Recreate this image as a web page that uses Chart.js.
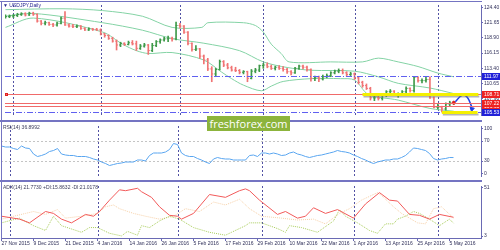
<!DOCTYPE html>
<html>
<head>
<meta charset="utf-8">
<title>USDJPY Daily</title>
<script src="https://cdn.jsdelivr.net/npm/chart.js@4.4.1/dist/chart.umd.min.js"></script>
<style>
  body { margin: 0; background: #fff; }
  #wrap { position: relative; width: 500px; height: 250px; overflow: hidden; background: #fff; }
  canvas { position: absolute; left: 0; }
  .sep { position: absolute; left: 0; width: 482px; background: #7474c2; }
  .txt { position: absolute; left: 3px; font: 5px "Liberation Sans", Arial, sans-serif; line-height: 6px; color: #3a3a5a; white-space: nowrap; }
  #brand { position: absolute; left: 207px; top: 116px; width: 83px; height: 15px; background: #8cb43c;
           color: #fff; font: 11px "Open Sans", sans-serif; line-height: 15px; text-align: center; }
</style>
</head>
<body>
<div id="wrap">
  <canvas id="price" width="500" height="120" style="top:0"></canvas>
  <canvas id="rsi" width="500" height="58" style="top:122px"></canvas>
  <canvas id="adx" width="500" height="68" style="top:182px"></canvas>
  <div class="sep" style="top:1px;height:1px"></div>
  <div class="sep" style="left:1px;width:1px;top:1px;height:238px"></div>
  <div class="sep" style="top:120px;height:2px"></div>
  <div class="sep" style="top:180px;height:2px"></div>
  <div class="txt" style="top:2px;color:#25258f">&#9660; USDJPY,Daily</div>
  <div class="txt" style="top:124px">RSI(14) 36.8992</div>
  <div class="txt" style="top:184px">ADX(14) 21.7730 +DI:15.8632 -DI:21.0178</div>
  <div id="brand">freshforex.com</div>
</div>
<script>
/* DATA */

// date labels on the bottom axis (bar index -> text)
const tickIdx = [0, 8, 16, 24, 32, 40, 48, 56, 64, 72, 80, 88, 96, 104, 112];
const tickText = ['27 Nov 2015', '9 Dec 2015', '21 Dec 2015', '4 Jan 2016', '14 Jan 2016', '26 Jan 2016',
  '5 Feb 2016', '17 Feb 2016', '29 Feb 2016', '10 Mar 2016', '22 Mar 2016', '1 Apr 2016',
  '13 Apr 2016', '25 Apr 2016', '5 May 2016'];
// first bar of each month (period separators)
const monthStart = [2, 24, 44, 65, 88, 109];

// daily bars USDJPY
const open = [
  122.6, 122.7, 122.8, 122.9, 123.1, 123.2, 123.0, 123.3, 123.1, 121.9,
  121.5, 121.6, 121.3, 121.2, 121.5, 122.4, 121.2, 121.0, 120.9, 121.0,
  120.6, 120.3, 120.5, 120.4, 120.3, 119.6, 119.3, 118.8, 118.3, 117.6,
  117.9, 117.7, 118.0, 117.8, 117.0, 117.4, 117.6, 116.6, 117.5, 118.2,
  118.5, 118.7, 118.8, 118.7, 121.1, 121.0, 119.9, 117.9, 116.8, 116.9,
  115.6, 114.9, 113.3, 112.4, 113.2, 114.6, 114.0, 113.5, 113.1, 113.0,
  112.7, 112.8, 111.6, 112.9, 113.1, 113.9, 114.0, 113.7, 113.4, 113.6,
  113.4, 113.2, 112.8, 112.6, 113.4, 113.8, 113.6, 113.2, 111.6, 111.7,
  111.5, 111.9, 112.1, 112.6, 112.9, 113.0, 112.6, 112.3, 112.4, 111.7,
  110.9, 110.3, 109.8, 108.1, 108.1, 108.0, 108.6, 109.2, 109.3, 108.8,
  108.8, 109.2, 109.8, 109.4, 111.8, 111.2, 111.2, 111.4, 108.1, 106.4,
  106.4, 106.1, 107.0, 107.2
];
const high = [
  123.0, 123.0, 123.1, 123.3, 123.4, 123.4, 123.5, 123.5, 123.2, 122.0,
  121.9, 121.7, 121.5, 121.7, 122.6, 123.6, 121.4, 121.3, 121.2, 121.1,
  120.7, 120.7, 120.6, 120.6, 120.5, 119.7, 119.4, 119.0, 118.5, 118.1,
  118.0, 118.3, 118.4, 118.3, 117.7, 117.9, 117.7, 117.9, 118.4, 118.7,
  119.0, 119.2, 119.0, 121.7, 121.5, 121.1, 120.0, 118.0, 117.5, 117.0,
  115.8, 115.2, 113.7, 113.4, 114.9, 114.8, 114.3, 113.8, 113.6, 113.2,
  113.0, 112.9, 113.2, 113.4, 114.0, 114.3, 114.4, 114.0, 113.8, 113.9,
  113.7, 113.4, 113.0, 113.6, 114.0, 114.0, 113.8, 113.3, 112.0, 112.0,
  112.2, 112.4, 112.8, 113.1, 113.3, 113.3, 112.8, 112.7, 112.6, 111.9,
  111.1, 110.6, 110.0, 108.6, 108.4, 108.8, 109.4, 109.6, 109.4, 109.0,
  109.4, 110.1, 109.9, 111.9, 111.9, 111.5, 111.9, 111.9, 108.3, 107.0,
  106.6, 107.2, 107.5, 107.5
];
const low = [
  122.4, 122.5, 122.5, 122.7, 122.9, 122.8, 122.9, 122.9, 121.7, 121.2,
  121.2, 121.1, 120.9, 121.0, 121.4, 121.1, 120.8, 120.7, 120.7, 120.4,
  120.2, 120.2, 120.2, 120.2, 119.4, 119.0, 118.6, 118.1, 116.7, 117.3,
  117.5, 117.6, 117.6, 116.6, 116.8, 117.2, 115.9, 116.4, 117.3, 117.9,
  118.3, 118.2, 118.3, 118.5, 120.6, 119.7, 117.6, 116.5, 116.6, 115.2,
  114.2, 113.0, 111.0, 111.9, 113.1, 113.7, 113.3, 112.9, 112.8, 112.4,
  112.4, 111.0, 111.5, 112.6, 112.8, 113.4, 113.5, 113.2, 113.1, 113.2,
  112.9, 112.5, 112.2, 112.5, 113.2, 113.3, 112.9, 111.1, 111.2, 111.0,
  111.3, 111.7, 111.9, 112.4, 112.6, 112.4, 112.0, 112.1, 111.4, 110.6,
  110.0, 109.6, 107.7, 107.6, 107.7, 107.7, 108.3, 108.8, 108.6, 108.2,
  108.5, 108.9, 109.1, 109.1, 110.9, 110.8, 110.9, 108.0, 106.3, 106.1,
  105.55, 105.9, 106.7, 106.9
];
const close = [
  122.7, 122.8, 122.9, 123.1, 123.2, 123.0, 123.3, 123.1, 121.9, 121.5,
  121.6, 121.3, 121.2, 121.5, 122.4, 121.2, 121.0, 120.9, 121.0, 120.6,
  120.3, 120.5, 120.4, 120.3, 119.6, 119.3, 118.8, 118.3, 117.6, 117.9,
  117.7, 118.0, 117.8, 117.0, 117.4, 117.6, 116.6, 117.5, 118.2, 118.5,
  118.7, 118.8, 118.7, 121.1, 121.0, 119.9, 117.9, 116.8, 116.9, 115.6,
  114.9, 113.3, 112.4, 113.2, 114.6, 114.0, 113.5, 113.1, 113.0, 112.7,
  112.8, 111.6, 112.9, 113.1, 113.9, 114.0, 113.7, 113.4, 113.6, 113.4,
  113.2, 112.8, 112.6, 113.4, 113.8, 113.6, 113.2, 111.6, 111.7, 111.5,
  111.9, 112.1, 112.6, 112.9, 113.0, 112.6, 112.3, 112.4, 111.7, 110.9,
  110.3, 109.8, 108.1, 108.1, 108.0, 108.6, 109.2, 109.3, 108.8, 108.8,
  109.2, 109.8, 109.4, 111.8, 111.2, 111.2, 111.4, 108.1, 106.4, 106.4,
  106.1, 107.0, 107.2, 107.22
];

// Bollinger bands: [bar index, price]
const bbUpper = [[0, 123.95], [14.5, 124.11], [24.5, 123.78], [34.5, 122.77], [42, 120.76], [49.5, 120.76],
  [51, 121.6], [60, 121.6], [63, 121.1], [65, 119.92], [67, 117.75], [69.5, 116.07], [71.5, 114.56],
  [82, 114.56], [90, 114.56], [94, 115.24], [99, 114.56], [104, 113.73], [109, 112.55], [113, 111.88]];
const bbMiddle = [[0, 122.77], [7, 123.27], [24.5, 121.6], [34.5, 120.26], [42, 118.75], [50, 117.92],
  [59, 116.58], [65, 114.56], [71, 113.56], [77, 113.06], [88, 112.89], [94, 111.88], [99, 110.71],
  [107, 109.87], [113, 108.87]];
const bbLower = [[0, 120.76], [7, 122.44], [24.5, 119.92], [29.5, 117.75], [33, 116.58], [36, 116.07],
  [42, 116.24], [50, 114.9], [54.5, 112.72], [57, 111.55], [60, 110.38], [64.5, 109.37], [67, 110.21],
  [70, 111.05], [77, 111.55], [84.5, 111.55], [88, 111.3], [91.5, 108.7], [99, 107.7], [107, 106.2],
  [113, 105.7]];

// price axis ticks and horizontal levels
const priceTicks = [124.40, 121.65, 118.90, 116.15, 113.40, 110.65, 107.90];
const redLevels = [108.71, 107.22, 106.65];
const blueLevels = [111.97, 105.53];
// yellow support/resistance marks: [from bar, to bar, price]
const yellowMarks = [[90, 119.2, 108.71], [110, 119, 105.45]];
// drawn forecast arrow: [bar index, price]
const arrowPath = [[113.4, 107.4], [115.1, 108.55], [116.4, 108.2], [117.6, 106.4]];

// RSI(14)
const rsi = [
  60, 58, 58, 55, 53, 60, 56, 55, 44, 39,
  41, 44, 49, 51, 55, 44, 42, 41, 41, 39,
  39, 39, 37, 34, 32, 28, 25, 21, 23, 25,
  26, 28, 28, 28, 32, 32, 30, 41, 46, 46,
  46, 48, 53, 65, 63, 46, 41, 39, 39, 35,
  32, 28, 25, 34, 37, 35, 34, 34, 32, 32,
  32, 32, 41, 42, 39, 46, 46, 44, 46, 44,
  41, 42, 46, 48, 44, 42, 39, 37, 39, 41,
  42, 44, 46, 48, 51, 49, 48, 46, 42, 39,
  35, 32, 28, 25, 28, 30, 32, 32, 34, 34,
  37, 41, 48, 56, 55, 53, 51, 45, 35, 32,
  34, 35, 37, 36.9
];
const rsiTicks = [100, 70, 30, 0];
const rsiLevels = [70, 30];

// ADX(14): [bar index, value]
const adx = [[0, 22.8], [4.5, 19.9], [7, 16.2], [11, 27.5], [13, 25.6], [15, 19.9], [17.5, 16.2], [19.5, 20.9],
  [21, 24.6], [23, 22.8], [24.5, 27.5], [27, 38.8], [29.5, 49.1], [31, 48.2], [34, 50.6], [35, 47.2],
  [37.5, 41.6], [39.5, 32.2], [42, 23.7], [44, 22.8], [45, 19.9], [48, 25.6], [52, 44.4], [56, 41.6],
  [59.5, 48.2], [61, 50], [62, 48.2], [64.5, 38.8], [69, 24.6], [71, 27.5], [74, 20.9], [76, 22.8],
  [78, 31.2], [81, 25.6], [84, 29.4], [88, 20.9], [91, 35], [94.5, 46.3], [97, 38.8], [99, 37.9],
  [102, 24.6], [104.5, 23.7], [107, 19.9], [109.5, 24.6], [113, 21.77]];
const plusDI = [[0, 16.2], [4.5, 20.9], [8, 13.4], [11, 8.6], [13, 22.8], [15, 13.4], [20, 6.8], [22, 11.5],
  [24, 11.5], [27, 5.8], [30, 3.2], [31.5, 7.7], [34, 3.9], [35, 13.4], [37, 11.5], [39.5, 18.1], [42, 22.8],
  [44.5, 19.9], [48, 11.5], [52, 6.8], [56, 3.9], [57.5, 6.8], [61, 13.4], [62, 16.2], [65, 16.2],
  [69, 10.5], [71, 6.8], [72, 13.4], [75, 11.5], [79, 6.8], [83, 18.1], [84.5, 29.4], [86, 22.8],
  [89, 16.2], [92, 8.6], [94, 5.8], [96, 15.2], [98, 15.2], [99, 19.9], [101, 22.8], [103, 27.5],
  [104.5, 25.6], [107, 19.9], [109.5, 13.4], [112, 19.9], [113, 15.86]];
const minusDI = [[0, 19.9], [6, 25.6], [8, 27.5], [11, 24.6], [14, 29.4], [16, 20.9], [20, 22.8], [24, 25.6],
  [26, 32.2], [28, 34], [29.5, 30.3], [33, 25.6], [36, 22.8], [39.5, 19.9], [43, 22.8], [46, 30.3],
  [49.5, 27.5], [53, 36.9], [56, 34], [59.5, 39.7], [62, 30.3], [65, 22.8], [70, 20.9], [74, 19],
  [78, 19.9], [81, 15.2], [84.5, 25.6], [87, 30.3], [90, 38.8], [94, 46.3], [95, 43.5], [98, 32.2],
  [100, 25.6], [104, 16.2], [106, 15.2], [108, 30.3], [110, 32.2], [113, 21.02]];
const adxTicks = [51, 3];

/* STYLE */

const FONT = '"Liberation Sans", Arial, sans-serif';
const AXIS = '#6a6ab4';
const TXT = '#30305a';
const UP = '#3f9a4a';
const DOWN = '#f07474';

const pts = arr => arr.map(p => ({ x: p[0], y: p[1] }));

// shared x axis: one bar every 4 px
function xAxis(show) {
  const ax = { type: 'linear', min: -0.125, max: 119.875, offset: false, display: show };
  if (show) {
    Object.assign(ax, {
      afterBuildTicks: s => { s.ticks = tickIdx.map(v => ({ value: v })); },
      afterFit: s => { s.height = 12; },
      grid: { drawOnChartArea: false, drawTicks: true, tickLength: 3, color: AXIS },
      border: { display: true, color: AXIS },
      ticks: { autoSkip: false, maxRotation: 0, align: 'start', padding: 0, color: TXT,
        font: { size: 5, family: FONT }, callback: v => tickText[tickIdx.indexOf(v)] }
    });
  }
  return ax;
}

function yAxis(min, max, values, fmt) {
  return {
    position: 'right', min: min, max: max,
    afterBuildTicks: s => { s.ticks = values.map(v => ({ value: v })); },
    afterFit: s => { s.width = 19; },
    grid: { drawOnChartArea: false, drawTicks: true, tickLength: 2, color: AXIS },
    border: { display: true, color: AXIS },
    ticks: { autoSkip: false, padding: 1, color: TXT, font: { size: 5, family: FONT }, callback: fmt }
  };
}

// dotted vertical month separators
const monthLines = {
  id: 'monthLines',
  beforeDatasetsDraw(chart) {
    const { ctx, chartArea: a, scales: { x } } = chart;
    ctx.save();
    ctx.strokeStyle = '#5252a4';
    ctx.lineWidth = 1;
    ctx.setLineDash([2, 2]);
    monthStart.forEach(i => {
      const px = Math.round(x.getPixelForValue(i)) + 0.5;
      ctx.beginPath();
      ctx.moveTo(px, a.top);
      ctx.lineTo(px, a.bottom);
      ctx.stroke();
    });
    ctx.restore();
  }
};

// horizontal levels, yellow marks and price tags
const priceLevels = {
  id: 'priceLevels',
  afterDatasetsDraw(chart) {
    const { ctx, chartArea: a, scales: { x, y } } = chart;
    ctx.save();
    ctx.lineWidth = 1;
    ctx.strokeStyle = '#f06a6a';
    redLevels.forEach(v => {
      const py = Math.round(y.getPixelForValue(v)) + 0.5;
      ctx.beginPath(); ctx.moveTo(a.left, py); ctx.lineTo(a.right, py); ctx.stroke();
    });
    ctx.strokeStyle = '#e02020';
    ctx.strokeRect(a.left + 0.5, Math.round(y.getPixelForValue(redLevels[0])) - 0.5, 2, 2);
    ctx.strokeStyle = '#6060f0';
    ctx.setLineDash([6, 2, 1, 2]);
    blueLevels.forEach(v => {
      const py = Math.round(y.getPixelForValue(v)) + 0.5;
      ctx.beginPath(); ctx.moveTo(a.left, py); ctx.lineTo(a.right, py); ctx.stroke();
    });
    ctx.setLineDash([]);
    yellowMarks.forEach(m => {
      const x0 = x.getPixelForValue(m[0]), x1 = x.getPixelForValue(m[1]);
      const py = y.getPixelForValue(m[2]);
      ctx.strokeStyle = 'rgba(120,120,120,0.55)';
      ctx.lineWidth = 2;
      ctx.beginPath(); ctx.moveTo(x0 + 1, py + 2); ctx.lineTo(x1 + 1, py + 2); ctx.stroke();
      ctx.strokeStyle = '#f4f000';
      ctx.lineWidth = 3;
      ctx.beginPath(); ctx.moveTo(x0, py); ctx.lineTo(x1, py); ctx.stroke();
    });
    ctx.restore();
  },
  afterDraw(chart) {
    const { ctx, chartArea: a, scales: { y } } = chart;
    ctx.save();
    ctx.font = '5px ' + FONT;
    ctx.textBaseline = 'middle';
    const tag = (v, bg) => {
      const py = Math.round(y.getPixelForValue(v));
      ctx.fillStyle = bg;
      ctx.fillRect(a.right + 1, py - 3, 18, 7);
      ctx.fillStyle = '#fff';
      ctx.fillText(v.toFixed(2), a.right + 3, py + 0.5);
    };
    redLevels.slice().reverse().forEach(v => tag(v, '#ee2222'));
    blueLevels.forEach(v => tag(v, '#2020d8'));
    ctx.restore();
  }
};

// dotted RSI levels
const rsiGrid = {
  id: 'rsiGrid',
  beforeDatasetsDraw(chart) {
    const { ctx, chartArea: a, scales: { y } } = chart;
    ctx.save();
    ctx.strokeStyle = '#c4c4c4';
    ctx.setLineDash([2, 2]);
    rsiLevels.forEach(v => {
      const py = Math.round(y.getPixelForValue(v)) + 0.5;
      ctx.beginPath(); ctx.moveTo(a.left, py); ctx.lineTo(a.right, py); ctx.stroke();
    });
    ctx.restore();
  }
};

const common = {
  responsive: false,
  animation: false,
  events: [],
  plugins: { legend: { display: false }, tooltip: { enabled: false } }
};

/* PRICE CHART */

const barColors = close.map((c, i) => (c >= open[i] ? UP : DOWN));

new Chart(document.getElementById('price'), {
  type: 'line',
  data: {
    datasets: [
      {
        type: 'line', data: pts(arrowPath), borderColor: '#1f3fe6', borderWidth: 1.5,
        tension: 0.45, pointRadius: 0
      },
      {
        type: 'line', data: [{ x: arrowPath[3][0], y: arrowPath[3][1] - 0.3 }], showLine: false,
        pointStyle: 'triangle', rotation: 190, pointRadius: 2.5,
        pointBackgroundColor: '#1f3fe6', pointBorderColor: '#1f3fe6'
      },
      {
        type: 'line', data: [{ x: close.length - 1, y: close[close.length - 1] }], showLine: false,
        pointRadius: 1.5, pointBackgroundColor: '#e82020', pointBorderColor: '#e82020'
      },
      {
        type: 'line', data: close.map((c, i) => ({ x: i + 0.125, y: c })), showLine: false,
        pointStyle: 'line', pointRadius: 1, pointBorderWidth: 1, pointBorderColor: barColors
      },
      {
        type: 'line', data: open.map((o, i) => ({ x: i - 0.125, y: o })), showLine: false,
        pointStyle: 'line', pointRadius: 1, pointBorderWidth: 1, pointBorderColor: barColors
      },
      {
        type: 'bar', data: low.map((l, i) => ({ x: i, y: [l, high[i]] })),
        backgroundColor: barColors, barThickness: 1, borderWidth: 0
      },
      { type: 'line', data: pts(bbUpper), borderColor: '#84d3a5', borderWidth: 1, pointRadius: 0, tension: 0.3 },
      { type: 'line', data: pts(bbMiddle), borderColor: '#84d3a5', borderWidth: 1, pointRadius: 0, tension: 0.3 },
      { type: 'line', data: pts(bbLower), borderColor: '#84d3a5', borderWidth: 1, pointRadius: 0, tension: 0.3 }
    ]
  },
  options: Object.assign({}, common, {
    layout: { padding: { left: 1, top: 1, right: 0, bottom: 1 } },
    scales: {
      x: xAxis(false),
      y: yAxis(105.02, 124.785, priceTicks, v => v.toFixed(2))
    }
  }),
  plugins: [monthLines, priceLevels]
});

/* RSI CHART */

new Chart(document.getElementById('rsi'), {
  type: 'line',
  data: {
    datasets: [{
      data: rsi.map((v, i) => ({ x: i, y: v })), borderColor: '#5aa6f0', borderWidth: 1, pointRadius: 0
    }]
  },
  options: Object.assign({}, common, {
    layout: { padding: { left: 1, top: 0, right: 0, bottom: 0 } },
    scales: {
      x: xAxis(false),
      y: Object.assign(yAxis(0, 100, rsiTicks, (v, i) => String(rsiTicks[i])), {
        afterBuildTicks: s => { s.ticks = rsiTicks.map(v => ({ value: Math.min(95, Math.max(5, v)) })); }
      })
    }
  }),
  plugins: [monthLines, rsiGrid]
});

/* ADX CHART */

new Chart(document.getElementById('adx'), {
  type: 'line',
  data: {
    datasets: [
      { data: pts(adx), borderColor: '#f25a5a', borderWidth: 1, pointRadius: 0 },
      { data: pts(plusDI), borderColor: '#a8cc5a', borderWidth: 1, borderDash: [1, 1], pointRadius: 0 },
      { data: pts(minusDI), borderColor: '#f6d0a8', borderWidth: 1, borderDash: [1, 1], pointRadius: 0 }
    ]
  },
  options: Object.assign({}, common, {
    layout: { padding: { left: 1, top: 1, right: 0, bottom: 0 } },
    scales: {
      x: xAxis(true),
      y: yAxis(1.12, 52.88, adxTicks, v => String(v))
    }
  }),
  plugins: [monthLines]
});
</script>
</body>
</html>
